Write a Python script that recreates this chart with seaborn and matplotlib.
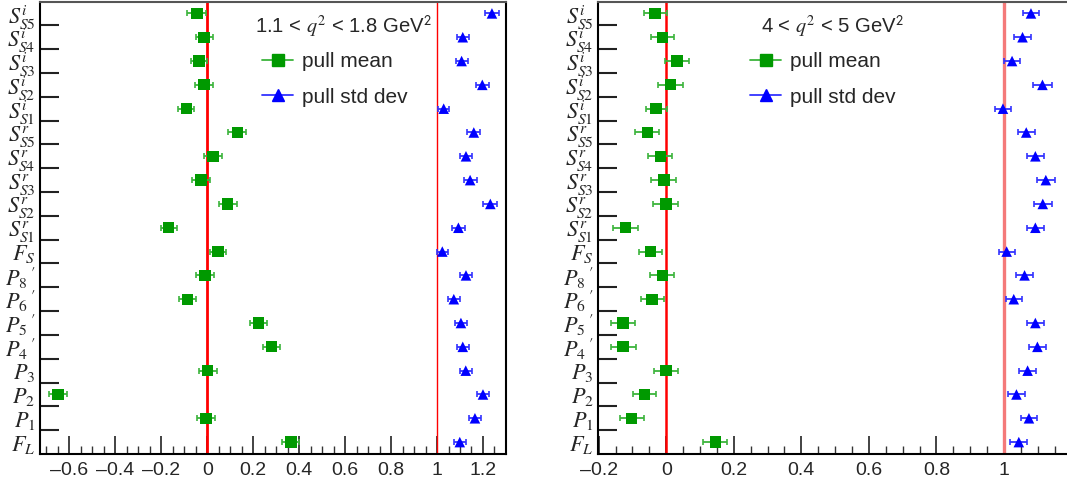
import numpy as np
import pandas as pd
import matplotlib
matplotlib.use("Agg")
import matplotlib.pyplot as plt
import seaborn as sns
from matplotlib.ticker import MultipleLocator, FixedLocator
from matplotlib.lines import Line2D

# ---------------- data ----------------
categories = [r'$F_{\mathit{L}}$', r'$P_{\mathit{1}}$', r'$P_{\mathit{2}}$', r'$P_{\mathit{3}}$',
              r"$P_{\mathit{4}}\,'$", r"$P_{\mathit{5}}\,'$", r"$P_{\mathit{6}}\,'$", r"$P_{\mathit{8}}\,'$",
              r'$F_{\mathit{S}}$',
              r'$S^{r}_{\mathit{S1}}$', r'$S^{r}_{\mathit{S2}}$', r'$S^{r}_{\mathit{S3}}$',
              r'$S^{r}_{\mathit{S4}}$', r'$S^{r}_{\mathit{S5}}$',
              r'$S^{i}_{\mathit{S1}}$', r'$S^{i}_{\mathit{S2}}$', r'$S^{i}_{\mathit{S3}}$',
              r'$S^{i}_{\mathit{S4}}$', r'$S^{i}_{\mathit{S5}}$']

# left panel: 1.1 < q2 < 1.8
left_mean = [0.364, -0.006, -0.650, 0.002, 0.279, 0.222, -0.087, -0.010, 0.047,
             -0.168, 0.089, -0.027, 0.025, 0.131,
             -0.091, -0.014, -0.036, -0.014, -0.045]
left_mean_err = [0.037, 0.040, 0.040, 0.040, 0.037, 0.038, 0.038, 0.038, 0.035,
                 0.035, 0.040, 0.038, 0.038, 0.039,
                 0.035, 0.040, 0.036, 0.037, 0.041]
left_std = [1.099, 1.165, 1.200, 1.125, 1.112, 1.104, 1.073, 1.126, 1.023,
            1.093, 1.232, 1.144, 1.126, 1.160,
            1.029, 1.197, 1.107, 1.112, 1.239]
left_std_err = [0.027, 0.028, 0.028, 0.027, 0.027, 0.027, 0.026, 0.027, 0.025,
                0.027, 0.030, 0.028, 0.027, 0.028,
                0.025, 0.028, 0.026, 0.026, 0.030]

# right panel: 4 < q2 < 5
right_mean = [0.145, -0.102, -0.065, -0.001, -0.128, -0.128, -0.042, -0.012, -0.047,
              -0.121, -0.001, -0.007, -0.018, -0.056,
              -0.030, 0.012, 0.032, -0.011, -0.033]
right_mean_err = [0.035, 0.036, 0.034, 0.036, 0.037, 0.036, 0.034, 0.036, 0.033,
                  0.036, 0.037, 0.037, 0.036, 0.036,
                  0.031, 0.037, 0.035, 0.034, 0.034]
right_std = [1.044, 1.074, 1.037, 1.070, 1.099, 1.093, 1.029, 1.061, 1.008,
             1.093, 1.115, 1.124, 1.093, 1.066,
             0.997, 1.114, 1.024, 1.055, 1.080]
right_std_err = [0.025, 0.025, 0.024, 0.025, 0.026, 0.026, 0.024, 0.025, 0.024,
                 0.026, 0.026, 0.027, 0.026, 0.025,
                 0.023, 0.027, 0.024, 0.025, 0.025]

titles = [r"1.1 < $q^2$ < 1.8 GeV$^{\mathsf{2}}$", r"4 < $q^2$ < 5 GeV$^{\mathsf{2}}$"]
legend_labels = ['pull mean', 'pull std dev']

# ---------------- style ----------------
sns.set_theme(style="ticks")
plt.rcParams['font.family'] = ['Liberation Sans', 'DejaVu Sans']
plt.rcParams['mathtext.fontset'] = 'stix'

GREEN = '#009900'
GREEN_ERR = '#3cb43c'
BLUE = '#0000ff'
BLUE_ERR = '#3333ff'

W, H = 1067, 484
fig = plt.figure(figsize=(W / 100, H / 100), dpi=100)

def px_axes(x0, x1, ytop, ybot):
    return fig.add_axes([x0 / W, 1 - ybot / H, (x1 - x0) / W, (ybot - ytop) / H])

LX0, LX1 = 39.5, 505.5
RX0, RX1 = 597.7, 1068.5
axL = px_axes(LX0, LX1, 1.5, 454)
axR = px_axes(RX0, RX1, 1.5, 454)

panels = [
    (axL, left_mean, left_mean_err, left_std, left_std_err, (-0.73, 1.298), titles[0]),
    (axR, right_mean, right_mean_err, right_std, right_std_err,
     (-0.203, -0.203 + (RX1 - RX0) / 337.7), titles[1]),
]

ypos = np.arange(len(categories))

for i, (ax, m, me, s, se, xlim, title) in enumerate(panels):
    df = pd.DataFrame({'y': ypos, 'mean': m, 'mean_err': me, 'std': s, 'std_err': se})

    # reference lines
    if i == 0:
        ax.axvline(0, color='#ff0000', lw=2.0, zorder=1)
        ax.axvline(1, color='#ff0000', lw=1.0, zorder=1)
    else:
        ax.axvline(0, color='#ff0000', lw=1.8, zorder=1)
        ax.axvline(1, color='#f47a7a', lw=2.4, zorder=1)

    ax.errorbar(df['mean'], df['y'], xerr=df['mean_err'], fmt='none',
                ecolor=GREEN_ERR, elinewidth=1.3, capsize=2.2, capthick=1.2, zorder=2)
    ax.errorbar(df['std'], df['y'], xerr=df['std_err'], fmt='none',
                ecolor=BLUE_ERR, elinewidth=1.3, capsize=2.2, capthick=1.2, zorder=2)
    sns.scatterplot(data=df, x='mean', y='y', marker='s', s=66, color=GREEN,
                    edgecolor='none', linewidth=0, ax=ax, zorder=3, legend=False)
    sns.scatterplot(data=df, x='std', y='y', marker='^', s=58, color=BLUE,
                    edgecolor='none', linewidth=0, ax=ax, zorder=3, legend=False)

    ax.set_xlim(*xlim)
    ax.set_ylim(-0.5, len(categories) - 0.5)
    ax.set_xlabel('')
    ax.set_ylabel('')

    # x ticks
    ax.xaxis.set_major_locator(MultipleLocator(0.2))
    ax.xaxis.set_minor_locator(MultipleLocator(0.05))
    ax.xaxis.set_major_formatter(matplotlib.ticker.FuncFormatter(
        lambda v, p: ('%g' % round(v, 2)).replace('-', '\u2013')))
    ax.tick_params(axis='x', which='major', direction='in', length=13, width=1.2,
                   labelsize=14, pad=6, color='#222222')
    ax.tick_params(axis='x', which='minor', direction='in', length=6, width=1.0,
                   color='#333333')

    # y ticks: labels at categories, tick marks between them
    ax.set_yticks(ypos)
    ax.set_yticklabels(categories)
    ax.yaxis.set_minor_locator(FixedLocator(ypos[:-1] + 0.5))
    ax.tick_params(axis='y', which='major', length=0, labelsize=16, pad=3)
    ax.tick_params(axis='y', which='minor', direction='in', length=14, width=1.5,
                   color='#222222')

    for sp in ['left', 'bottom', 'right']:
        ax.spines[sp].set_color('black')
        ax.spines[sp].set_linewidth(1.5)
    ax.spines['top'].set_color('#555555')
    ax.spines['top'].set_linewidth(1.5)

    # legend
    handles = [
        Line2D([], [], color=GREEN_ERR, lw=1.3, marker='s', markersize=8,
               markerfacecolor=GREEN, markeredgecolor=GREEN),
        Line2D([], [], color=BLUE_ERR, lw=1.3, marker='^', markersize=8,
               markerfacecolor=BLUE, markeredgecolor=BLUE),
    ]
    axw = (LX1 - LX0) if i == 0 else (RX1 - RX0)
    if i == 0:
        tx, lx = (255 - LX0) / axw, (262 - LX0) / axw
    else:
        tx, lx = (761 - RX0) / axw, (750 - RX0) / axw
    ax.text(tx, (454 - 27) / 452.5, title, transform=ax.transAxes,
            fontsize=14.6, va='center', ha='left')
    ax.legend(handles, legend_labels, loc='upper left',
              bbox_to_anchor=(lx, (454 - 52) / 452.5), frameon=False,
              fontsize=15, handlelength=1.5, handletextpad=0.4,
              labelspacing=0.8, borderaxespad=0, borderpad=0)

fig.savefig('out.png', dpi=100)
